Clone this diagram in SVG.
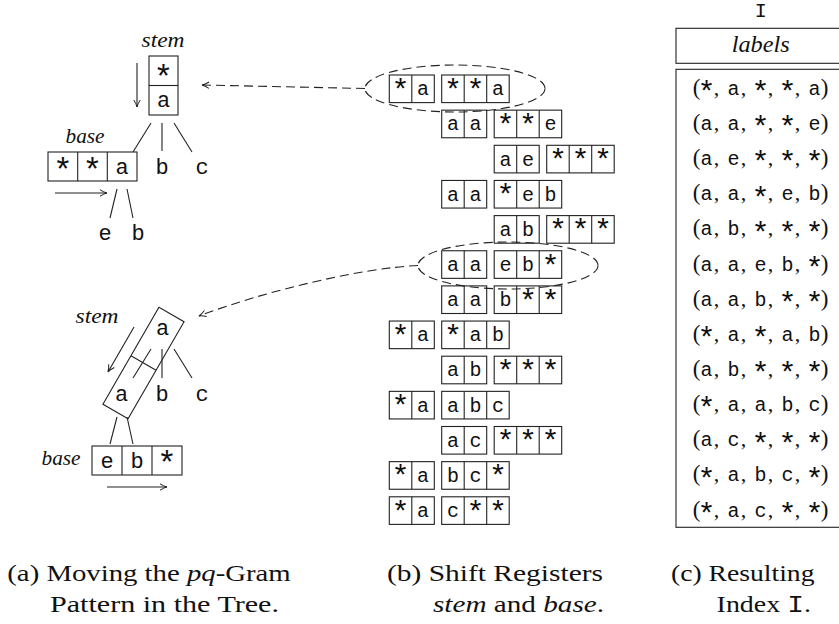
<svg xmlns="http://www.w3.org/2000/svg" xmlns:xlink="http://www.w3.org/1999/xlink" width="839" height="624" viewBox="0 0 839 624">
<style>
.bx{fill:none;stroke:#222;stroke-width:1.1}
.ln{fill:none;stroke:#222;stroke-width:1.1}
.ds{fill:none;stroke:#222;stroke-width:1.1;stroke-dasharray:9 5}
.m{font-family:"Liberation Mono",monospace;font-size:20px;text-anchor:middle;fill:#111}
.ast{font-family:"Liberation Mono",monospace;font-size:30px}
.mL{font-family:"Liberation Mono",monospace;font-size:22px;text-anchor:middle;fill:#111}
.astL{font-family:"Liberation Mono",monospace;font-size:33px}
.it{font-family:"Liberation Serif",serif;font-style:italic;font-size:22px;text-anchor:middle;fill:#111}
.sp{font-family:"Liberation Serif",serif;font-size:23px}
.sc{font-family:"Liberation Serif",serif;font-size:22px}
.cap{font-family:"Liberation Serif",serif;font-size:24px;fill:#111}
</style>
<defs>
<marker id="ah" viewBox="-8 -5 10 10" refX="0" refY="0" markerWidth="10" markerHeight="10" markerUnits="userSpaceOnUse" orient="auto">
<path d="M-7,-3.2 Q-3,-0.7 0,0 Q-3,0.7 -7,3.2" fill="none" stroke="#222" stroke-width="1"/>
</marker>
<g id="b2" fill="none" stroke="#222" stroke-width="1.1"><rect x="0" y="0" width="45" height="27.6"/><line x1="22.5" y1="0" x2="22.5" y2="27.6"/></g>
<g id="b3" fill="none" stroke="#222" stroke-width="1.1"><rect x="0" y="0" width="67.5" height="27.6"/><line x1="22.5" y1="0" x2="22.5" y2="27.6"/><line x1="45" y1="0" x2="45" y2="27.6"/></g>
</defs>

<!-- (a) upper tree -->
<g id="tree1-stem">
<text class="it" x="163" y="47" textLength="43" lengthAdjust="spacingAndGlyphs">stem</text>
<rect class="bx" x="149" y="56" width="29" height="59"/>
<line class="ln" x1="149" y1="85.5" x2="178" y2="85.5"/>
<text class="mL"><tspan class="astL" x="163.5" y="87.7">*</tspan><tspan x="163.5" y="107.3">a</tspan></text>
</g>
<g id="tree1-base">
<text class="it" x="85" y="143" textLength="39" lengthAdjust="spacingAndGlyphs">base</text>
<rect class="bx" x="48" y="152" width="89" height="29"/>
<line class="ln" x1="77.7" y1="152" x2="77.7" y2="181"/>
<line class="ln" x1="107.3" y1="152" x2="107.3" y2="181"/>
<text class="mL"><tspan class="astL" x="62.8 92.5" y="181.2">**</tspan><tspan x="122.2" y="174">a</tspan></text>
</g>
<g id="tree1-b"><text class="mL" x="162" y="174">b</text></g>
<g id="tree1-c"><text class="mL" x="202" y="174">c</text></g>
<g id="tree1-e"><text class="mL" x="105" y="240">e</text></g>
<g id="tree1-b2"><text class="mL" x="138" y="240">b</text></g>

<!-- (a) lower tree -->
<g id="tree2-stem">
<text class="it" x="97" y="323" textLength="43" lengthAdjust="spacingAndGlyphs">stem</text>
<g transform="translate(143.5,363) rotate(30)">
<rect class="bx" x="-14.5" y="-56" width="29" height="112"/>
<line class="ln" x1="-14.5" y1="0" x2="14.5" y2="0"/>
</g>
<text class="mL" x="162.7" y="335">a</text>
<text class="mL" x="121.7" y="401">a</text>
</g>
<g id="tree2-base">
<text class="it" x="61" y="465" textLength="39" lengthAdjust="spacingAndGlyphs">base</text>
<rect class="bx" x="92" y="446" width="90" height="29"/>
<line class="ln" x1="122" y1="446" x2="122" y2="475"/>
<line class="ln" x1="152" y1="446" x2="152" y2="475"/>
<text class="mL"><tspan x="107 137" y="467.5">eb</tspan><tspan class="astL" x="167" y="474.2">*</tspan></text>
</g>
<g id="tree2-b"><text class="mL" x="162" y="400.5">b</text></g>
<g id="tree2-c"><text class="mL" x="202" y="400.5">c</text></g>

<!-- (b) shift registers -->
<g id="registers">
<g id="r1" transform="translate(0,75)"><use xlink:href="#b2" x="389.3"/><use xlink:href="#b3" x="441.7"/><text class="m"><tspan class="ast" x="400.55" y="24.8">*</tspan><tspan x="423.05" y="20.3">a</tspan><tspan class="ast" x="452.95 475.45" y="24.8">**</tspan><tspan x="497.95" y="20.3">a</tspan></text></g>
<g id="r2" transform="translate(0,110.15)"><use xlink:href="#b2" x="441.7"/><use xlink:href="#b3" x="494.2"/><text class="m"><tspan x="452.95 475.45" y="20.3">aa</tspan><tspan class="ast" x="505.45 527.95" y="24.8">**</tspan><tspan x="550.45" y="20.3">e</tspan></text></g>
<g id="r3" transform="translate(0,145.3)"><use xlink:href="#b2" x="494.2"/><use xlink:href="#b3" x="546.7"/><text class="m"><tspan x="505.45 527.95" y="20.3">ae</tspan><tspan class="ast" x="557.95 580.45 602.95" y="24.8">***</tspan></text></g>
<g id="r4" transform="translate(0,180.45)"><use xlink:href="#b2" x="441.7"/><use xlink:href="#b3" x="494.2"/><text class="m"><tspan x="452.95 475.45" y="20.3">aa</tspan><tspan class="ast" x="505.45" y="24.8">*</tspan><tspan x="527.95 550.45" y="20.3">eb</tspan></text></g>
<g id="r5" transform="translate(0,215.6)"><use xlink:href="#b2" x="494.2"/><use xlink:href="#b3" x="546.7"/><text class="m"><tspan x="505.45 527.95" y="20.3">ab</tspan><tspan class="ast" x="557.95 580.45 602.95" y="24.8">***</tspan></text></g>
<g id="r6" transform="translate(0,250.75)"><use xlink:href="#b2" x="441.7"/><use xlink:href="#b3" x="494.2"/><text class="m"><tspan x="452.95 475.45 505.45 527.95" y="20.3">aaeb</tspan><tspan class="ast" x="550.45" y="24.8">*</tspan></text></g>
<g id="r7" transform="translate(0,285.9)"><use xlink:href="#b2" x="441.7"/><use xlink:href="#b3" x="494.2"/><text class="m"><tspan x="452.95 475.45 505.45" y="20.3">aab</tspan><tspan class="ast" x="527.95 550.45" y="24.8">**</tspan></text></g>
<g id="r8" transform="translate(0,321.05)"><use xlink:href="#b2" x="389.3"/><use xlink:href="#b3" x="441.7"/><text class="m"><tspan class="ast" x="400.55" y="24.8">*</tspan><tspan x="423.05" y="20.3">a</tspan><tspan class="ast" x="452.95" y="24.8">*</tspan><tspan x="475.45 497.95" y="20.3">ab</tspan></text></g>
<g id="r9" transform="translate(0,356.2)"><use xlink:href="#b2" x="441.7"/><use xlink:href="#b3" x="494.2"/><text class="m"><tspan x="452.95 475.45" y="20.3">ab</tspan><tspan class="ast" x="505.45 527.95 550.45" y="24.8">***</tspan></text></g>
<g id="r10" transform="translate(0,391.35)"><use xlink:href="#b2" x="389.3"/><use xlink:href="#b3" x="441.7"/><text class="m"><tspan class="ast" x="400.55" y="24.8">*</tspan><tspan x="423.05 452.95 475.45 497.95" y="20.3">aabc</tspan></text></g>
<g id="r11" transform="translate(0,426.5)"><use xlink:href="#b2" x="441.7"/><use xlink:href="#b3" x="494.2"/><text class="m"><tspan x="452.95 475.45" y="20.3">ac</tspan><tspan class="ast" x="505.45 527.95 550.45" y="24.8">***</tspan></text></g>
<g id="r12" transform="translate(0,461.65)"><use xlink:href="#b2" x="389.3"/><use xlink:href="#b3" x="441.7"/><text class="m"><tspan class="ast" x="400.55" y="24.8">*</tspan><tspan x="423.05 452.95 475.45" y="20.3">abc</tspan><tspan class="ast" x="497.95" y="24.8">*</tspan></text></g>
<g id="r13" transform="translate(0,496.8)"><use xlink:href="#b2" x="389.3"/><use xlink:href="#b3" x="441.7"/><text class="m"><tspan class="ast" x="400.55" y="24.8">*</tspan><tspan x="423.05 452.95" y="20.3">ac</tspan><tspan class="ast" x="475.45 497.95" y="24.8">**</tspan></text></g>
</g>
<g id="sel1"><ellipse class="ds" cx="455" cy="88.5" rx="90" ry="23.5"/></g>
<g id="sel2"><ellipse class="ds" cx="508" cy="265.5" rx="90" ry="23.5"/></g>

<!-- (c) index -->
<g id="index">
<text class="m" x="760.7" y="17">I</text>
<rect class="bx" x="676" y="28.3" width="200" height="35"/>
<text class="it" x="760.7" y="52" style="font-size:24px" textLength="58" lengthAdjust="spacingAndGlyphs">labels</text>
<rect class="bx" x="676" y="69.3" width="200" height="458"/>
<g transform="translate(0,88.8)"><text class="m"><tspan class="sp" x="696.5" y="6">(</tspan><tspan class="ast" x="706.5" y="13.3">*</tspan><tspan class="sc" x="719.25" y="6">, </tspan><tspan x="733.5" y="6">a</tspan><tspan class="sc" x="746.25" y="6">, </tspan><tspan class="ast" x="760.5" y="13.3">*</tspan><tspan class="sc" x="773.25" y="6">, </tspan><tspan class="ast" x="787.5" y="13.3">*</tspan><tspan class="sc" x="800.25" y="6">, </tspan><tspan x="814.5" y="6">a</tspan><tspan class="sp" x="824.5" y="6">)</tspan></text></g>
<g transform="translate(0,123.95)"><text class="m"><tspan class="sp" x="696.5" y="6">(</tspan><tspan x="706.5" y="6">a</tspan><tspan class="sc" x="719.25" y="6">, </tspan><tspan x="733.5" y="6">a</tspan><tspan class="sc" x="746.25" y="6">, </tspan><tspan class="ast" x="760.5" y="13.3">*</tspan><tspan class="sc" x="773.25" y="6">, </tspan><tspan class="ast" x="787.5" y="13.3">*</tspan><tspan class="sc" x="800.25" y="6">, </tspan><tspan x="814.5" y="6">e</tspan><tspan class="sp" x="824.5" y="6">)</tspan></text></g>
<g transform="translate(0,159.1)"><text class="m"><tspan class="sp" x="696.5" y="6">(</tspan><tspan x="706.5" y="6">a</tspan><tspan class="sc" x="719.25" y="6">, </tspan><tspan x="733.5" y="6">e</tspan><tspan class="sc" x="746.25" y="6">, </tspan><tspan class="ast" x="760.5" y="13.3">*</tspan><tspan class="sc" x="773.25" y="6">, </tspan><tspan class="ast" x="787.5" y="13.3">*</tspan><tspan class="sc" x="800.25" y="6">, </tspan><tspan class="ast" x="814.5" y="13.3">*</tspan><tspan class="sp" x="824.5" y="6">)</tspan></text></g>
<g transform="translate(0,194.25)"><text class="m"><tspan class="sp" x="696.5" y="6">(</tspan><tspan x="706.5" y="6">a</tspan><tspan class="sc" x="719.25" y="6">, </tspan><tspan x="733.5" y="6">a</tspan><tspan class="sc" x="746.25" y="6">, </tspan><tspan class="ast" x="760.5" y="13.3">*</tspan><tspan class="sc" x="773.25" y="6">, </tspan><tspan x="787.5" y="6">e</tspan><tspan class="sc" x="800.25" y="6">, </tspan><tspan x="814.5" y="6">b</tspan><tspan class="sp" x="824.5" y="6">)</tspan></text></g>
<g transform="translate(0,229.4)"><text class="m"><tspan class="sp" x="696.5" y="6">(</tspan><tspan x="706.5" y="6">a</tspan><tspan class="sc" x="719.25" y="6">, </tspan><tspan x="733.5" y="6">b</tspan><tspan class="sc" x="746.25" y="6">, </tspan><tspan class="ast" x="760.5" y="13.3">*</tspan><tspan class="sc" x="773.25" y="6">, </tspan><tspan class="ast" x="787.5" y="13.3">*</tspan><tspan class="sc" x="800.25" y="6">, </tspan><tspan class="ast" x="814.5" y="13.3">*</tspan><tspan class="sp" x="824.5" y="6">)</tspan></text></g>
<g transform="translate(0,264.55)"><text class="m"><tspan class="sp" x="696.5" y="6">(</tspan><tspan x="706.5" y="6">a</tspan><tspan class="sc" x="719.25" y="6">, </tspan><tspan x="733.5" y="6">a</tspan><tspan class="sc" x="746.25" y="6">, </tspan><tspan x="760.5" y="6">e</tspan><tspan class="sc" x="773.25" y="6">, </tspan><tspan x="787.5" y="6">b</tspan><tspan class="sc" x="800.25" y="6">, </tspan><tspan class="ast" x="814.5" y="13.3">*</tspan><tspan class="sp" x="824.5" y="6">)</tspan></text></g>
<g transform="translate(0,299.7)"><text class="m"><tspan class="sp" x="696.5" y="6">(</tspan><tspan x="706.5" y="6">a</tspan><tspan class="sc" x="719.25" y="6">, </tspan><tspan x="733.5" y="6">a</tspan><tspan class="sc" x="746.25" y="6">, </tspan><tspan x="760.5" y="6">b</tspan><tspan class="sc" x="773.25" y="6">, </tspan><tspan class="ast" x="787.5" y="13.3">*</tspan><tspan class="sc" x="800.25" y="6">, </tspan><tspan class="ast" x="814.5" y="13.3">*</tspan><tspan class="sp" x="824.5" y="6">)</tspan></text></g>
<g transform="translate(0,334.85)"><text class="m"><tspan class="sp" x="696.5" y="6">(</tspan><tspan class="ast" x="706.5" y="13.3">*</tspan><tspan class="sc" x="719.25" y="6">, </tspan><tspan x="733.5" y="6">a</tspan><tspan class="sc" x="746.25" y="6">, </tspan><tspan class="ast" x="760.5" y="13.3">*</tspan><tspan class="sc" x="773.25" y="6">, </tspan><tspan x="787.5" y="6">a</tspan><tspan class="sc" x="800.25" y="6">, </tspan><tspan x="814.5" y="6">b</tspan><tspan class="sp" x="824.5" y="6">)</tspan></text></g>
<g transform="translate(0,370)"><text class="m"><tspan class="sp" x="696.5" y="6">(</tspan><tspan x="706.5" y="6">a</tspan><tspan class="sc" x="719.25" y="6">, </tspan><tspan x="733.5" y="6">b</tspan><tspan class="sc" x="746.25" y="6">, </tspan><tspan class="ast" x="760.5" y="13.3">*</tspan><tspan class="sc" x="773.25" y="6">, </tspan><tspan class="ast" x="787.5" y="13.3">*</tspan><tspan class="sc" x="800.25" y="6">, </tspan><tspan class="ast" x="814.5" y="13.3">*</tspan><tspan class="sp" x="824.5" y="6">)</tspan></text></g>
<g transform="translate(0,405.15)"><text class="m"><tspan class="sp" x="696.5" y="6">(</tspan><tspan class="ast" x="706.5" y="13.3">*</tspan><tspan class="sc" x="719.25" y="6">, </tspan><tspan x="733.5" y="6">a</tspan><tspan class="sc" x="746.25" y="6">, </tspan><tspan x="760.5" y="6">a</tspan><tspan class="sc" x="773.25" y="6">, </tspan><tspan x="787.5" y="6">b</tspan><tspan class="sc" x="800.25" y="6">, </tspan><tspan x="814.5" y="6">c</tspan><tspan class="sp" x="824.5" y="6">)</tspan></text></g>
<g transform="translate(0,440.3)"><text class="m"><tspan class="sp" x="696.5" y="6">(</tspan><tspan x="706.5" y="6">a</tspan><tspan class="sc" x="719.25" y="6">, </tspan><tspan x="733.5" y="6">c</tspan><tspan class="sc" x="746.25" y="6">, </tspan><tspan class="ast" x="760.5" y="13.3">*</tspan><tspan class="sc" x="773.25" y="6">, </tspan><tspan class="ast" x="787.5" y="13.3">*</tspan><tspan class="sc" x="800.25" y="6">, </tspan><tspan class="ast" x="814.5" y="13.3">*</tspan><tspan class="sp" x="824.5" y="6">)</tspan></text></g>
<g transform="translate(0,475.45)"><text class="m"><tspan class="sp" x="696.5" y="6">(</tspan><tspan class="ast" x="706.5" y="13.3">*</tspan><tspan class="sc" x="719.25" y="6">, </tspan><tspan x="733.5" y="6">a</tspan><tspan class="sc" x="746.25" y="6">, </tspan><tspan x="760.5" y="6">b</tspan><tspan class="sc" x="773.25" y="6">, </tspan><tspan x="787.5" y="6">c</tspan><tspan class="sc" x="800.25" y="6">, </tspan><tspan class="ast" x="814.5" y="13.3">*</tspan><tspan class="sp" x="824.5" y="6">)</tspan></text></g>
<g transform="translate(0,510.6)"><text class="m"><tspan class="sp" x="696.5" y="6">(</tspan><tspan class="ast" x="706.5" y="13.3">*</tspan><tspan class="sc" x="719.25" y="6">, </tspan><tspan x="733.5" y="6">a</tspan><tspan class="sc" x="746.25" y="6">, </tspan><tspan x="760.5" y="6">c</tspan><tspan class="sc" x="773.25" y="6">, </tspan><tspan class="ast" x="787.5" y="13.3">*</tspan><tspan class="sc" x="800.25" y="6">, </tspan><tspan class="ast" x="814.5" y="13.3">*</tspan><tspan class="sp" x="824.5" y="6">)</tspan></text></g>
</g>

<!-- connectors -->
<g id="connectors">
<line class="ln" x1="151" y1="123" x2="133" y2="152"/>
<line class="ln" x1="162" y1="123" x2="162" y2="151"/>
<line class="ln" x1="174" y1="123" x2="192" y2="152"/>
<line class="ln" x1="117" y1="189" x2="110" y2="218"/>
<line class="ln" x1="127" y1="189" x2="133" y2="218"/>
<line class="ln" x1="151" y1="349" x2="133" y2="378"/>
<line class="ln" x1="162" y1="349" x2="162" y2="378"/>
<line class="ln" x1="174" y1="349" x2="192" y2="378"/>
<line class="ln" x1="117" y1="417" x2="110" y2="444"/>
<line class="ln" x1="127" y1="417" x2="133" y2="444"/>
<line class="ln" x1="137" y1="63" x2="137" y2="107" marker-end="url(#ah)"/>
<line class="ln" x1="55" y1="193" x2="107" y2="193" marker-end="url(#ah)"/>
<line class="ln" x1="134" y1="327" x2="108" y2="372" marker-end="url(#ah)"/>
<line class="ln" x1="107" y1="487" x2="167" y2="487" marker-end="url(#ah)"/>
<path class="ds" d="M365,88.5 L202,85" marker-end="url(#ah)"/>
<path class="ds" d="M418,265.5 C360,268 262,292 199,316" marker-end="url(#ah)"/>
</g>

<!-- captions -->
<g id="captions">
<text class="cap" x="7.3" y="580.5" textLength="283.4" lengthAdjust="spacingAndGlyphs">(a) Moving the <tspan font-style="italic">pq</tspan>-Gram</text>
<text class="cap" x="50" y="611.5" textLength="229" lengthAdjust="spacingAndGlyphs">Pattern in the Tree.</text>
<text class="cap" x="387" y="580.5" textLength="216" lengthAdjust="spacingAndGlyphs">(b) Shift Registers</text>
<text class="cap" x="433" y="611.5" textLength="171" lengthAdjust="spacingAndGlyphs"><tspan font-style="italic">stem</tspan> and <tspan font-style="italic">base</tspan>.</text>
<text class="cap" x="671" y="580.5" textLength="143.5" lengthAdjust="spacingAndGlyphs">(c) Resulting</text>
<text class="cap" x="716.6" y="611.5" textLength="94.4" lengthAdjust="spacingAndGlyphs">Index <tspan font-family="Liberation Mono, monospace">I</tspan>.</text>
</g>
</svg>
